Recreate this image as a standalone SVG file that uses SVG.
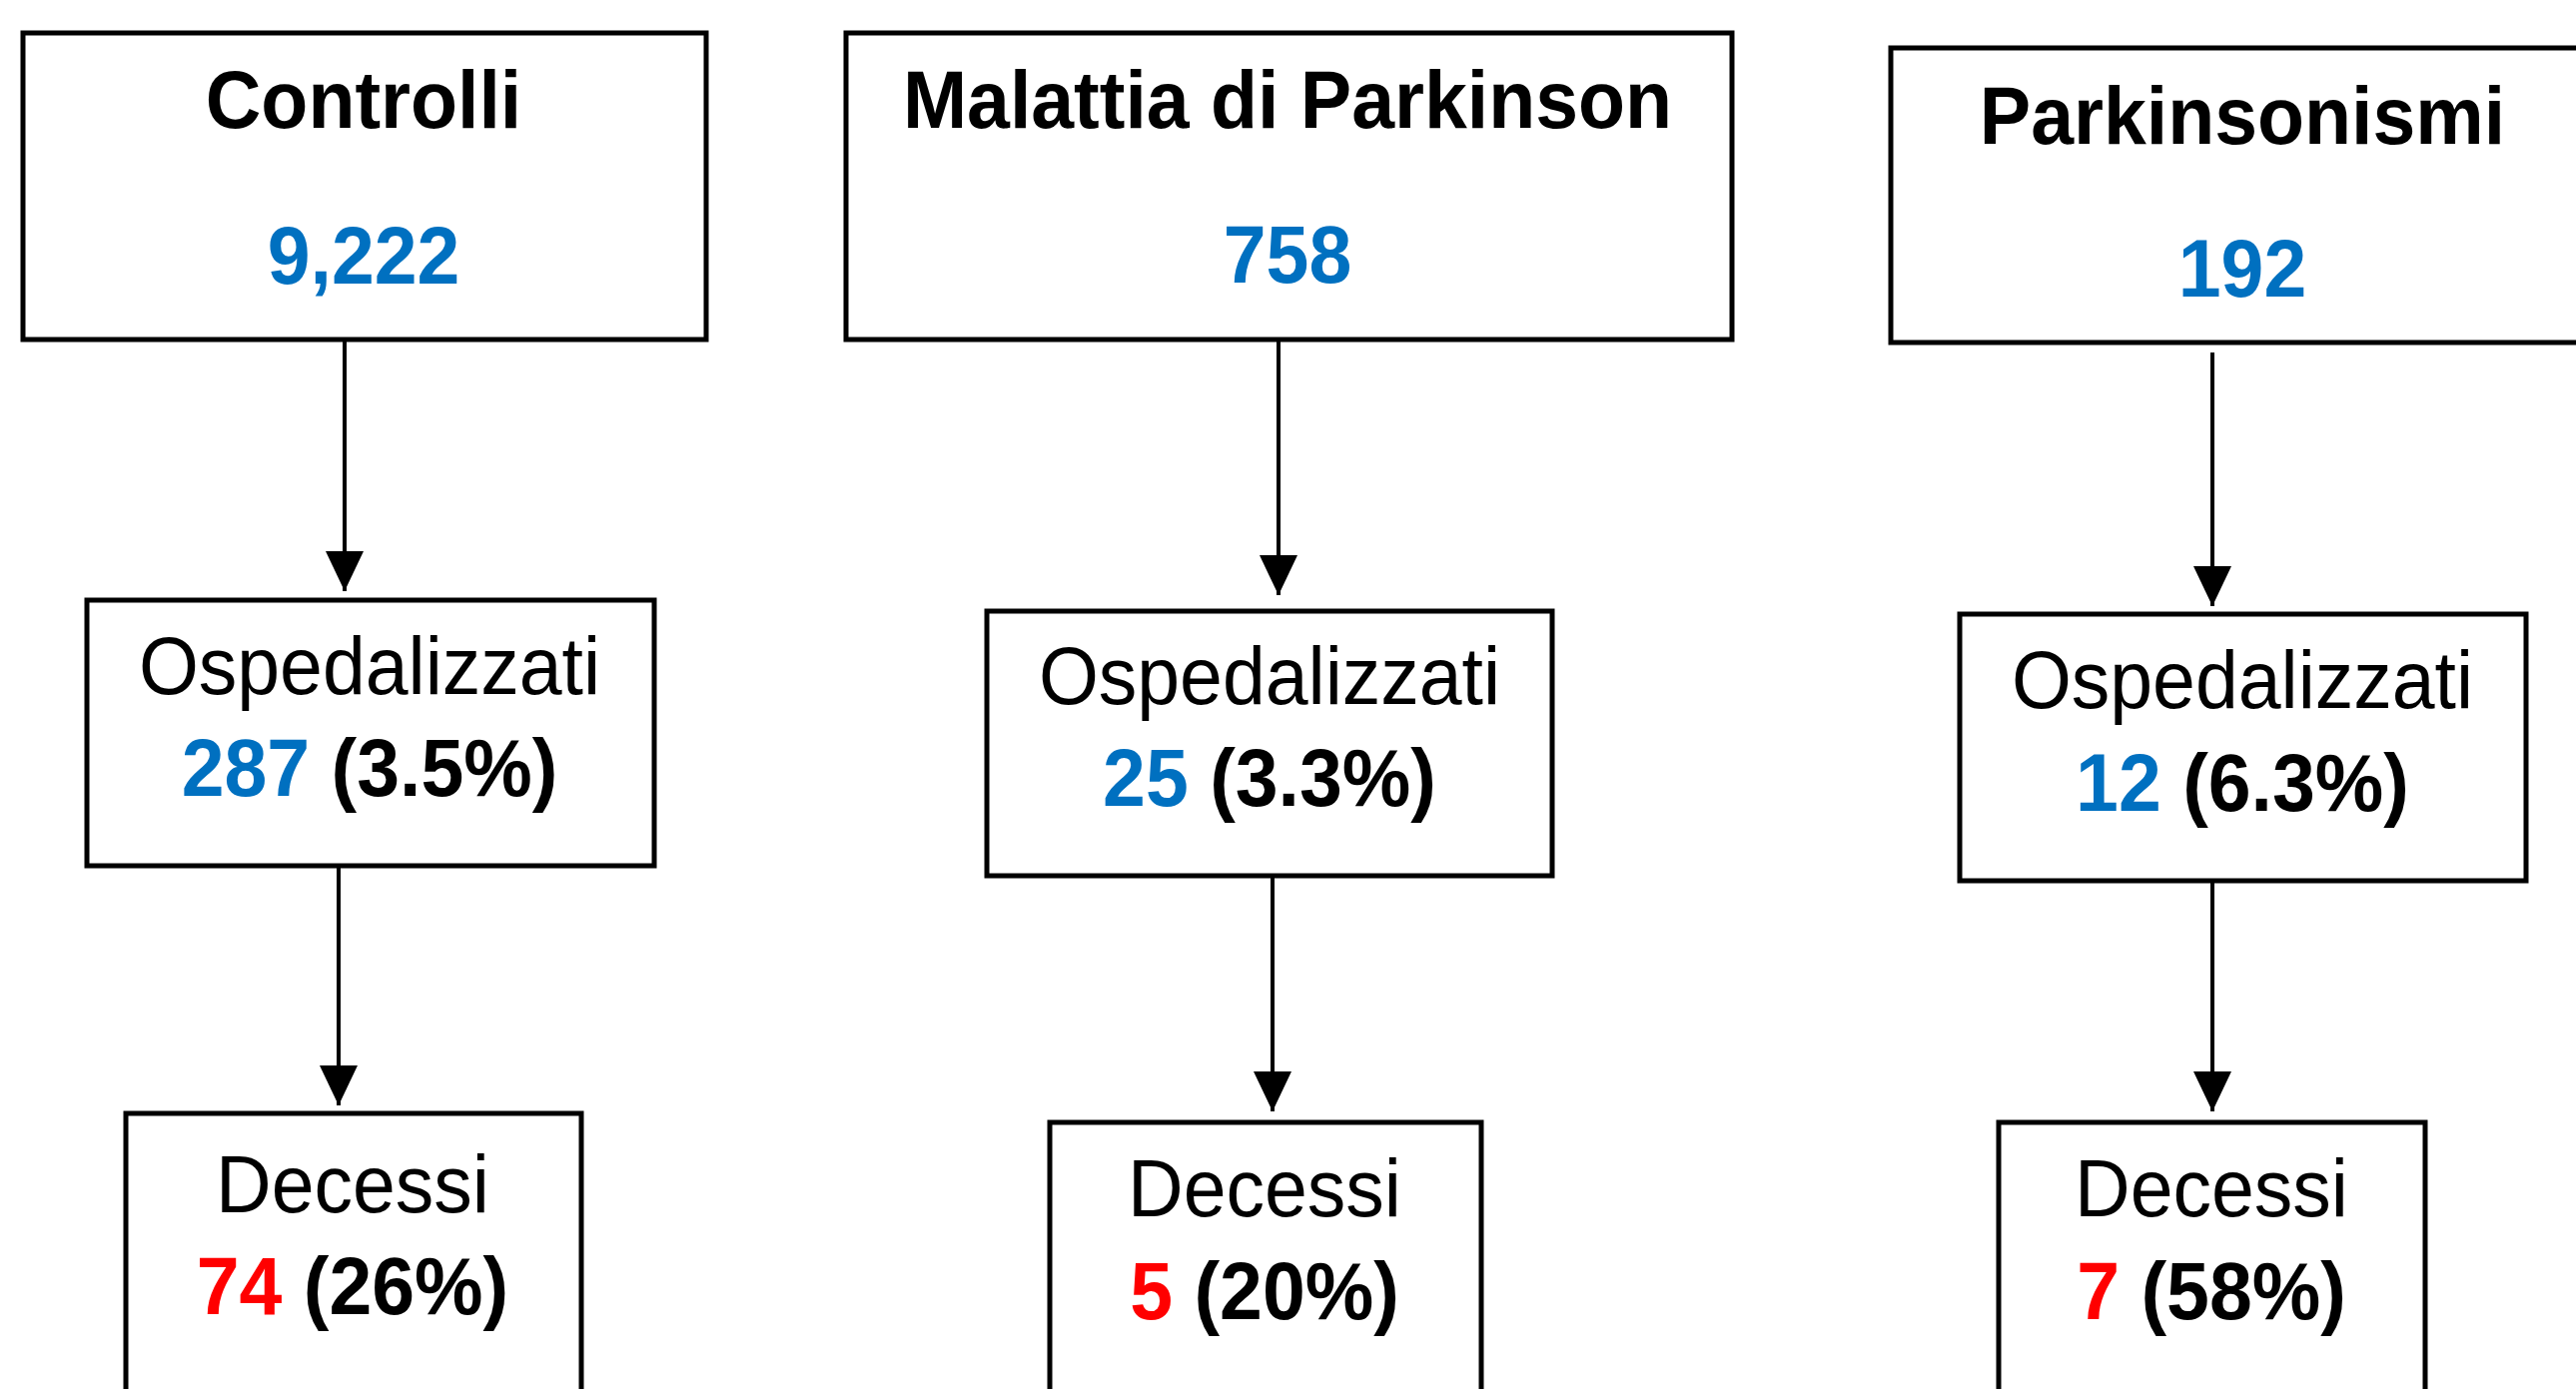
<svg xmlns="http://www.w3.org/2000/svg" width="2579" height="1391" viewBox="0 0 2579 1391">
  <style>
    .box { fill: #ffffff; stroke: #000000; stroke-width: 5; }
    .t { font-family: "Liberation Sans", Arial, sans-serif; font-size: 77px; text-anchor: middle; fill: #000000; }
    .b { font-weight: bold; }
    .blue { fill: #0070C0; font-weight: bold; }
    .red { fill: #FF0000; font-weight: bold; }
    .conn { stroke: #000000; stroke-width: 4; fill: none; marker-end: url(#ah); }
  </style>
  <defs>
    <marker id="ah" viewBox="0 0 40 38" refX="40" refY="19" markerWidth="40" markerHeight="38" markerUnits="userSpaceOnUse" orient="auto">
      <path d="M0,0 L40,19 L0,38 Z" fill="#000000"/>
    </marker>
  </defs>
  <rect width="2579" height="1391" fill="#ffffff"/>

  <g id="connectors">
    <line class="conn" x1="345" y1="340" x2="345" y2="592"/>
    <line class="conn" x1="1280" y1="340" x2="1280" y2="596"/>
    <line class="conn" x1="2215" y1="353" x2="2215" y2="607"/>
    <line class="conn" x1="339" y1="869" x2="339" y2="1107"/>
    <line class="conn" x1="1274" y1="878" x2="1274" y2="1113"/>
    <line class="conn" x1="2215" y1="884" x2="2215" y2="1113"/>
  </g>

  <g id="controlli">
    <rect class="box" x="23" y="33" width="684" height="307"/>
    <text class="t b" transform="translate(364,128) scale(1,1.05)">Controlli</text>
    <text class="t blue" transform="translate(364,284) scale(1,1.05)">9,222</text>
  </g>

  <g id="parkinson">
    <rect class="box" x="847" y="33" width="887" height="307"/>
    <text class="t b" transform="translate(1289,128) scale(1,1.05)">Malattia di Parkinson</text>
    <text class="t blue" transform="translate(1289,283) scale(1,1.05)">758</text>
  </g>

  <g id="parkinsonismi">
    <rect class="box" x="1893" y="48" width="720" height="295"/>
    <text class="t b" transform="translate(2245,144) scale(1,1.05)">Parkinsonismi</text>
    <text class="t blue" transform="translate(2245,297) scale(1,1.05)">192</text>
  </g>

  <g id="osp-controlli">
    <rect class="box" x="87" y="601" width="568" height="266"/>
    <text class="t" transform="translate(370,695) scale(1,1.05)">Ospedalizzati</text>
    <text class="t b" transform="translate(370,797) scale(1,1.05)"><tspan class="blue">287</tspan> (3.5%)</text>
  </g>

  <g id="osp-parkinson">
    <rect class="box" x="988" y="612" width="566" height="265"/>
    <text class="t" transform="translate(1271,705) scale(1,1.05)">Ospedalizzati</text>
    <text class="t b" transform="translate(1271,807) scale(1,1.05)"><tspan class="blue">25</tspan> (3.3%)</text>
  </g>

  <g id="osp-parkinsonismi">
    <rect class="box" x="1962" y="615" width="567" height="267"/>
    <text class="t" transform="translate(2245,709) scale(1,1.05)">Ospedalizzati</text>
    <text class="t b" transform="translate(2245,812) scale(1,1.05)"><tspan class="blue">12</tspan> (6.3%)</text>
  </g>

  <g id="dec-controlli">
    <rect class="box" x="126" y="1115" width="456" height="300"/>
    <text class="t" transform="translate(353,1214) scale(1,1.05)">Decessi</text>
    <text class="t b" transform="translate(353,1316) scale(1,1.05)"><tspan class="red">74</tspan> (26%)</text>
  </g>

  <g id="dec-parkinson">
    <rect class="box" x="1051" y="1124" width="432" height="300"/>
    <text class="t" transform="translate(1266,1218) scale(1,1.05)">Decessi</text>
    <text class="t b" transform="translate(1266,1321) scale(1,1.05)"><tspan class="red">5</tspan> (20%)</text>
  </g>

  <g id="dec-parkinsonismi">
    <rect class="box" x="2001" y="1124" width="427" height="300"/>
    <text class="t" transform="translate(2214,1218) scale(1,1.05)">Decessi</text>
    <text class="t b" transform="translate(2214,1321) scale(1,1.05)"><tspan class="red">7</tspan> (58%)</text>
  </g>
</svg>
